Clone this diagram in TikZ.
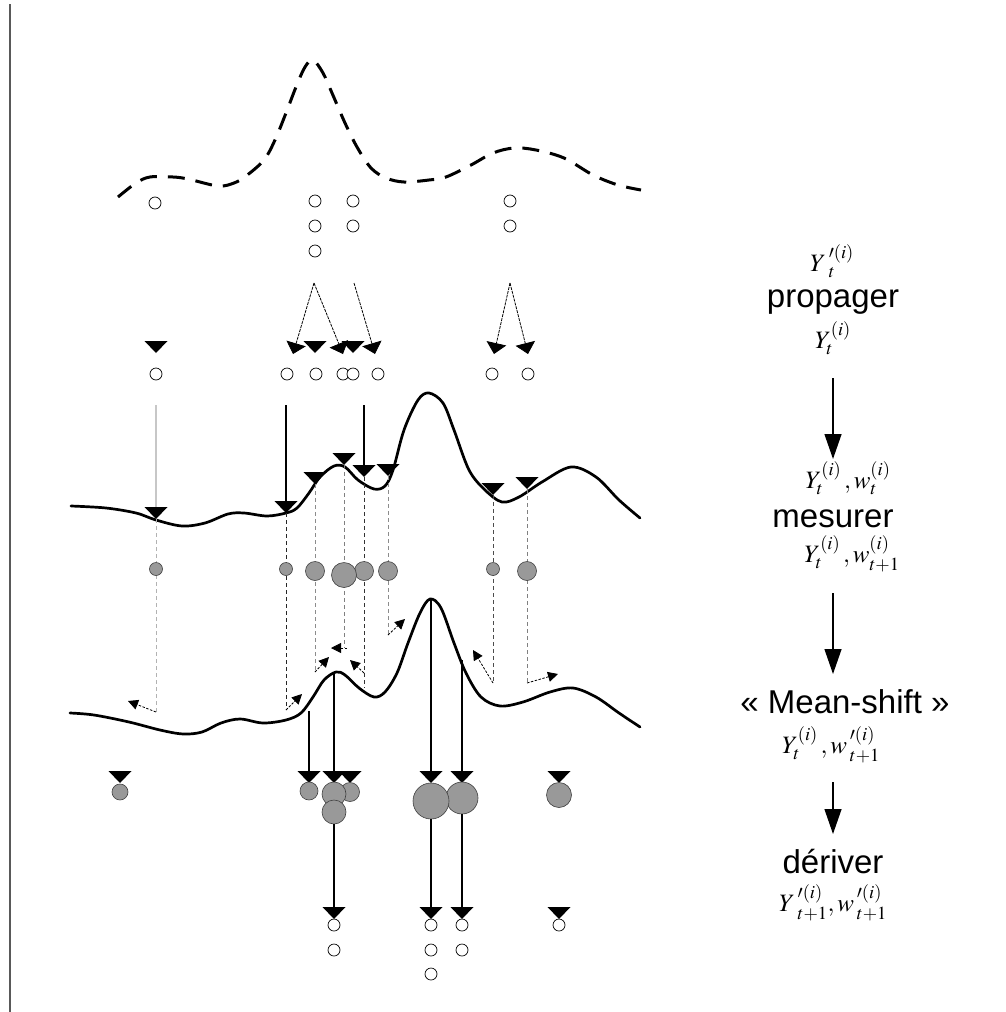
\documentclass[tikz,border=0pt]{standalone}
\usepackage{mathptmx}
\usepackage[no-math]{fontspec}
\setmainfont{Liberation Sans}
\usetikzlibrary{arrows.meta}
\newcommand{\dtri}[3]{%
  \fill (#2-11.5,#3-6) -- (#2+11.5,#3-6) -- (#2,#3+6) -- cycle;
  \coordinate (#1) at (#2,#3-6);}
\begin{document}
\begin{tikzpicture}[x=1pt,y=-1pt,
  ocirc/.style={circle,draw=black,line width=0.7pt,minimum size=12pt,inner sep=0pt,fill=white},
  gcirc/.style={circle,draw=black!75,line width=0.6pt,fill=black!40,inner sep=0pt},
  curve/.style={line width=2.7pt,line cap=round,line join=round},
  dcurve/.style={line width=3pt,dash pattern=on 17pt off 11pt},
  vline/.style={line width=1.1pt},
  vdash/.style={line width=0.9pt,dash pattern=on 4pt off 3pt},
  msarrow/.style={line width=0.8pt,dash pattern=on 2.5pt off 1.5pt,-{Triangle[length=10pt,width=10pt]}},
  bigarrow/.style={line width=1.3pt,-{Triangle[length=25pt,width=17pt]}},
  slarrow/.style={line width=0.8pt,dash pattern=on 3pt off 1pt,-{Triangle[length=11pt,width=20pt]}},
  lbl/.style={font=\fontsize{33}{40}\selectfont,inner sep=0pt},
  mlbl/.style={font=\fontsize{25}{30}\selectfont,inner sep=0pt}
]
\useasboundingbox (0,0) rectangle (1006,1012);
\fill[white] (0,0) rectangle (1006,1012);
\draw[line width=2pt,black!65] (10,4) -- (10,1012);

% ---------- top dashed curve ----------
\draw[dcurve] plot[smooth,tension=0.55] coordinates {
 (118,197) (136,183) (150,177) (173,177) (188,179) (218,186) (234,183) (246,176)
 (264,160) (275,140) (286,113) (296,87) (305,67) (313,60) (323,73) (332,93)
 (345,123) (357,147) (371,168) (386,178) (404,182) (429,180) (446,177) (471,165)
 (493,153) (514,148) (536,150) (564,158) (593,175) (618,185) (641,190)};

% top circles
\node[ocirc] (p1) at (155,203) {};
\node[ocirc] (p2) at (315,201) {};
\node[ocirc] (p3) at (315,226) {};
\node[ocirc] (p4) at (315,251) {};
\node[ocirc] (p5) at (353,201) {};
\node[ocirc] (p6) at (353,226) {};
\node[ocirc] (p7) at (510,201) {};
\node[ocirc] (p8) at (510,226) {};

% ---------- propagation arrows ----------
\coordinate (apA) at (314,283);
\coordinate (apB) at (354,283);
\coordinate (apC) at (510,283);
\coordinate (sA1) at (293,354);
\coordinate (sA2) at (343,354);
\coordinate (sB1) at (375,354);
\coordinate (sC1) at (494,354);
\coordinate (sC2) at (528,354);
\draw[slarrow] (apA) -- (sA1);
\draw[slarrow] (apA) -- (sA2);
\draw[slarrow] (apB) -- (sB1);
\draw[slarrow] (apC) -- (sC1);
\draw[slarrow] (apC) -- (sC2);
\dtri{r2a}{156}{347}
\dtri{r2b}{315}{347}
\dtri{r2c}{353}{347}

% row 2 circles
\node[ocirc] (c2a) at (156,374) {};
\node[ocirc] (c2b) at (287,374) {};
\node[ocirc] (c2c) at (316,374) {};
\node[ocirc] (c2d) at (343,374) {};
\node[ocirc] (c2e) at (353,374) {};
\node[ocirc] (c2f) at (378,374) {};
\node[ocirc] (c2g) at (492,374) {};
\node[ocirc] (c2h) at (528,374) {};

% ---------- measurement curve ----------
\draw[curve] plot[smooth,tension=0.55] coordinates {
 (71,506) (106,508) (136,513) (156,520) (182,526) (205,523) (228,514) (244,513)
 (267,516) (286,513) (297,508) (309,493) (320,477) (334,466) (345,467) (358,480)
 (374,489) (385,486) (393,470) (404,430) (418,400) (429,393) (443,403) (454,430)
 (469,470) (485,490) (502,502) (519,497) (542,482) (571,467) (596,477) (619,500) (640,518)};

% vertical arrows to curve 1
\coordinate (v1) at (156,405);
\coordinate (v2) at (286,405);
\coordinate (v3) at (364,405);
\dtri{m1}{156}{513}
\dtri{m2}{286}{507}
\dtri{m3}{315}{478}
\dtri{m4}{344}{459}
\dtri{m5}{364}{471}
\dtri{m6}{388}{470}
\dtri{m7}{493}{489}
\dtri{m8}{527}{483}
\draw[vline,black!22] (v1) -- (m1);
\draw[vline] (v2) -- (m2);
\draw[vline] (v3) -- (m5);

% dashed verticals down to lower curve
\coordinate (d1) at (156,712);
\coordinate (d2) at (286,710);
\coordinate (d3) at (315,672);
\coordinate (d4) at (344,648);
\coordinate (d5) at (364,688);
\coordinate (d6) at (388,635);
\coordinate (d7) at (493,683);
\coordinate (d8) at (527,683);
\draw[vdash,black!30] (156,519) -- (d1);
\draw[vdash,black!85] (286,513) -- (d2);
\draw[vdash,black!45] (315,484) -- (d3);
\draw[vdash,black!50] (344,465) -- (d4);
\draw[vdash,black!80] (364,477) -- (d5);
\draw[vdash,black!45] (388,476) -- (d6);
\draw[vdash,black!70] (493,495) -- (d7);
\draw[vdash,black!50] (527,489) -- (d8);

% weighted particles
\node[gcirc,minimum size=13pt] (g1) at (156,569) {};
\node[gcirc,minimum size=13pt] (g2) at (286,569) {};
\node[gcirc,minimum size=19pt] (g3) at (315,571) {};
\node[gcirc,minimum size=19pt] (g5) at (364,571) {};
\node[gcirc,minimum size=25pt] (g4) at (344,575) {};
\node[gcirc,minimum size=19pt] (g6) at (388,571) {};
\node[gcirc,minimum size=13pt] (g7) at (493,569) {};
\node[gcirc,minimum size=19pt] (g8) at (527,571) {};

% ---------- mean-shift curve ----------
\draw[curve] plot[smooth,tension=0.55] coordinates {
 (70,713) (94,715) (129,722) (160,730) (183,734) (202,732) (221,723) (240,719)
 (263,723) (286,720) (301,713) (313,697) (324,680) (336,672) (345,675) (359,688)
 (374,697) (385,692) (397,673) (408,643) (420,613) (430,599) (441,608) (454,643)
 (466,673) (481,697) (500,706) (523,702) (550,692) (573,688) (596,697) (619,713) (640,727)};

% mean-shift arrows
\coordinate (e1) at (128,701);
\coordinate (e2) at (302,694);
\coordinate (e3) at (329,657);
\coordinate (e4) at (331,648);
\coordinate (e5) at (350,660);
\coordinate (e6) at (405,619);
\coordinate (e7) at (473,650);
\coordinate (e8) at (558,674);
\coordinate (d4b) at (347,648);
\coordinate (d5b) at (364,673);
\draw[msarrow] (d1) -- (e1);
\draw[msarrow] (d2) -- (e2);
\draw[msarrow] (d3) -- (e3);
\draw[msarrow] (d4b) -- (e4);
\draw[msarrow] (d5b) -- (e5);
\draw[msarrow] (d6) -- (e6);
\draw[msarrow] (d7) -- (e7);
\draw[msarrow] (d8) -- (e8);

% ---------- resampling ----------
\coordinate (s1) at (309,711);
\coordinate (s2) at (334,672);
\coordinate (s3) at (431,600);
\coordinate (s4) at (462,660);
\dtri{b0}{120}{777}
\dtri{b1}{309}{777}
\dtri{b2}{334}{777}
\dtri{b9}{350}{777}
\dtri{b3}{431}{777}
\dtri{b4}{462}{777}
\dtri{b5}{559}{777}
\draw[vline] (s1) -- (b1);
\draw[vline] (s2) -- (b2);
\draw[vline] (s3) -- (b3);
\draw[vline] (s4) -- (b4);

\node[gcirc,minimum size=16pt] (h0) at (120,792) {};
\node[gcirc,minimum size=18pt] (h1) at (309,791) {};
\node[gcirc,minimum size=19pt] (h9) at (350,792) {};
\node[gcirc,minimum size=24pt] (h2) at (334,794) {};
\node[gcirc,minimum size=24pt] (h3) at (334,812) {};
\node[gcirc,minimum size=32pt] (h5) at (462,798) {};
\node[gcirc,minimum size=36pt] (h4) at (431,801) {};
\node[gcirc,minimum size=25pt] (h6) at (559,795) {};

% ---------- diffusion ----------
\dtri{q1}{334}{913}
\dtri{q2}{431}{913}
\dtri{q3}{462}{913}
\dtri{q4}{559}{913}
\draw[vline] (h3.south) -- (q1);
\draw[vline] (h4.south) -- (q2);
\draw[vline] (h5.south) -- (q3);
\node[ocirc] (z1) at (334,925) {};
\node[ocirc] (z2) at (334,950) {};
\node[ocirc] (z3) at (431,925) {};
\node[ocirc] (z4) at (431,950) {};
\node[ocirc] (z5) at (431,974) {};
\node[ocirc] (z6) at (462,925) {};
\node[ocirc] (z7) at (462,950) {};
\node[ocirc] (z8) at (559,925) {};

% ---------- right column ----------
\node[mlbl] (lY1) at (832,261) {$Y\,'^{(i)}_t$};
\node[lbl] (lprop) at (833,302) {propager};
\node[mlbl] (lY2) at (833,338) {$Y^{(i)}_t$};
\node[mlbl] (lY3) at (848,478) {$Y^{(i)}_t\,,w^{(i)}_t$};
\node[lbl] (lmes) at (833,519) {mesurer};
\node[mlbl] (lY4) at (852,554) {$Y^{(i)}_t\,,w^{(i)}_{t+1}$};
\node[lbl] (lms) at (845,702) {« Mean-shift »};
\node[mlbl] (lY5) at (831,745) {$Y^{(i)}_t\,,w\,'^{(i)}_{t+1}$};
\node[lbl] (lder) at (833,862) {dériver};
\node[mlbl] (lY6) at (833,903) {$Y\,'^{(i)}_{t+1},w\,'^{(i)}_{t+1}$};
\coordinate (ra1) at (833,378);
\coordinate (ra2) at (833,459);
\coordinate (rb1) at (833,593);
\coordinate (rb2) at (833,674);
\coordinate (rc1) at (833,782);
\coordinate (rc2) at (833,834);
\draw[bigarrow] (ra1) -- (ra2);
\draw[bigarrow] (rb1) -- (rb2);
\draw[bigarrow] (rc1) -- (rc2);
\end{tikzpicture}
\end{document}
